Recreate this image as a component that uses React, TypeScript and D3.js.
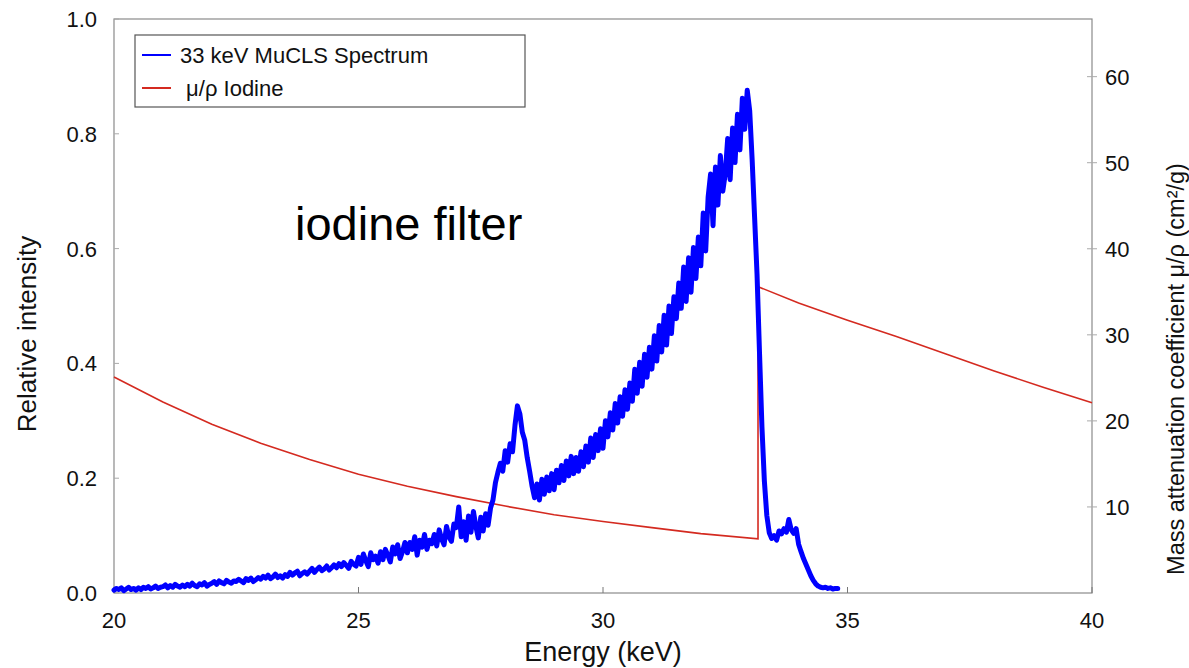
import React from "react";
import * as d3 from "d3";

const spectrumEnergy = [
  20.0, 20.05, 20.1, 20.15, 20.2, 20.25, 20.3, 20.35, 20.4, 20.45,
  20.5, 20.55, 20.6, 20.65, 20.7, 20.75, 20.8, 20.85, 20.9, 20.95,
  21.0, 21.05, 21.1, 21.15, 21.2, 21.25, 21.3, 21.35, 21.4, 21.45,
  21.5, 21.55, 21.6, 21.65, 21.7, 21.75, 21.8, 21.85, 21.9, 21.95,
  22.0, 22.05, 22.1, 22.15, 22.2, 22.25, 22.3, 22.35, 22.4, 22.45,
  22.5, 22.55, 22.6, 22.65, 22.7, 22.75, 22.8, 22.85, 22.9, 22.95,
  23.0, 23.05, 23.1, 23.15, 23.2, 23.25, 23.3, 23.35, 23.4, 23.45,
  23.5, 23.55, 23.6, 23.65, 23.7, 23.75, 23.8, 23.85, 23.9, 23.95,
  24.0, 24.05, 24.1, 24.15, 24.2, 24.25, 24.3, 24.35, 24.4, 24.45,
  24.5, 24.55, 24.6, 24.65, 24.7, 24.75, 24.8, 24.85, 24.9, 24.95,
  25.0, 25.05, 25.1, 25.15, 25.2, 25.25, 25.3, 25.35, 25.4, 25.45,
  25.5, 25.55, 25.6, 25.65, 25.7, 25.75, 25.8, 25.85, 25.9, 25.95,
  26.0, 26.05, 26.1, 26.15, 26.2, 26.25, 26.3, 26.35, 26.4, 26.45,
  26.5, 26.55, 26.6, 26.65, 26.7, 26.75, 26.8, 26.85, 26.9, 26.95,
  27.0, 27.05, 27.1, 27.15, 27.2, 27.25, 27.3, 27.35, 27.4, 27.45,
  27.5, 27.55, 27.6, 27.65, 27.7, 27.75, 27.8, 27.85, 27.9, 27.95,
  28.0, 28.05, 28.1, 28.15, 28.2, 28.25, 28.3, 28.35, 28.4, 28.45,
  28.5, 28.55, 28.6, 28.65, 28.7, 28.75, 28.8, 28.85, 28.9, 28.95,
  29.0, 29.05, 29.1, 29.15, 29.2, 29.25, 29.3, 29.35, 29.4, 29.45,
  29.5, 29.55, 29.6, 29.65, 29.7, 29.75, 29.8, 29.85, 29.9, 29.95,
  30.0, 30.05, 30.1, 30.15, 30.2, 30.25, 30.3, 30.35, 30.4, 30.45,
  30.5, 30.55, 30.6, 30.65, 30.7, 30.75, 30.8, 30.85, 30.9, 30.95,
  31.0, 31.05, 31.1, 31.15, 31.2, 31.25, 31.3, 31.35, 31.4, 31.45,
  31.5, 31.55, 31.6, 31.65, 31.7, 31.75, 31.8, 31.85, 31.9, 31.95,
  32.0, 32.05, 32.1, 32.15, 32.2, 32.25, 32.3, 32.35, 32.4, 32.45,
  32.5, 32.55, 32.6, 32.65, 32.7, 32.75, 32.8, 32.85, 32.9, 32.95,
  33.0, 33.05, 33.1, 33.15, 33.2, 33.25, 33.3, 33.35, 33.4, 33.45,
  33.5, 33.55, 33.6, 33.65, 33.7, 33.75, 33.8, 33.85, 33.9, 33.95,
  34.0, 34.05, 34.1, 34.15, 34.2, 34.25, 34.3, 34.35, 34.4, 34.45,
  34.5, 34.55, 34.6, 34.65, 34.7, 34.75, 34.8,
];

const spectrumIntensity = [
  0.005, 0.008, 0.006, 0.009, 0.004, 0.007, 0.010, 0.006, 0.008, 0.005,
  0.009, 0.006, 0.010, 0.008, 0.011, 0.007, 0.009, 0.012, 0.008, 0.010,
  0.011, 0.014, 0.009, 0.013, 0.010, 0.015, 0.012, 0.010, 0.014, 0.011,
  0.015, 0.012, 0.017, 0.013, 0.011, 0.016, 0.014, 0.018, 0.012, 0.015,
  0.017, 0.020, 0.015, 0.021, 0.018, 0.016, 0.022, 0.019, 0.017, 0.021,
  0.020, 0.024, 0.021, 0.018, 0.025, 0.022, 0.026, 0.020, 0.023, 0.027,
  0.024, 0.029, 0.026, 0.031, 0.025, 0.028, 0.033, 0.027, 0.030, 0.026,
  0.032, 0.029, 0.036, 0.031, 0.035, 0.038, 0.030, 0.034, 0.037, 0.033,
  0.038, 0.043, 0.036, 0.041, 0.045, 0.039, 0.042, 0.047, 0.040, 0.044,
  0.049, 0.044, 0.051, 0.046, 0.053, 0.048, 0.043, 0.055, 0.050, 0.047,
  0.062, 0.050, 0.068, 0.056, 0.046, 0.070, 0.058, 0.064, 0.052, 0.072,
  0.058, 0.076, 0.066, 0.054, 0.080, 0.068, 0.084, 0.060, 0.072, 0.088,
  0.070, 0.088, 0.076, 0.098, 0.066, 0.092, 0.080, 0.102, 0.076, 0.092,
  0.086, 0.102, 0.082, 0.110, 0.094, 0.084, 0.116, 0.098, 0.090, 0.120,
  0.114, 0.150, 0.098, 0.124, 0.092, 0.134, 0.106, 0.142, 0.116, 0.096,
  0.132, 0.108, 0.138, 0.118, 0.148, 0.162, 0.192, 0.210, 0.226, 0.212,
  0.248, 0.228, 0.260, 0.246, 0.292, 0.326, 0.312, 0.280, 0.266, 0.236,
  0.212, 0.186, 0.166, 0.190, 0.162, 0.198, 0.172, 0.202, 0.178, 0.208,
  0.180, 0.214, 0.192, 0.222, 0.196, 0.230, 0.204, 0.238, 0.208, 0.236,
  0.212, 0.246, 0.220, 0.256, 0.228, 0.270, 0.236, 0.276, 0.248, 0.286,
  0.252, 0.300, 0.272, 0.314, 0.284, 0.330, 0.296, 0.342, 0.308, 0.354,
  0.320, 0.366, 0.334, 0.390, 0.348, 0.402, 0.360, 0.416, 0.376, 0.428,
  0.390, 0.448, 0.404, 0.466, 0.420, 0.484, 0.432, 0.500, 0.452, 0.516,
  0.478, 0.540, 0.496, 0.568, 0.508, 0.584, 0.524, 0.602, 0.548, 0.620,
  0.570, 0.662, 0.596, 0.690, 0.730, 0.640, 0.742, 0.676, 0.762, 0.700,
  0.730, 0.792, 0.720, 0.810, 0.750, 0.834, 0.772, 0.862, 0.808, 0.876,
  0.840, 0.755, 0.655, 0.555, 0.420, 0.290, 0.195, 0.135, 0.105, 0.095,
  0.100, 0.092, 0.108, 0.103, 0.112, 0.106, 0.128, 0.110, 0.104, 0.112,
  0.085, 0.072, 0.060, 0.050, 0.040, 0.030, 0.022, 0.016, 0.012, 0.010,
  0.009, 0.010, 0.008, 0.009, 0.007, 0.008, 0.008,
];

const iodineEnergy = [20, 21, 22, 23, 24, 25, 26, 27, 28, 29, 30, 31, 32, 33.17, 33.17, 34, 35, 36, 37, 38, 39, 40];
const iodineMu = [25.1, 22.2, 19.6, 17.4, 15.5, 13.8, 12.4, 11.2, 10.1, 9.1, 8.3, 7.6, 6.9, 6.3, 35.6, 33.7, 31.7, 29.8, 27.8, 25.8, 23.9, 22.1];

const xTicks = [20, 25, 30, 35, 40];
const yLeftTicks = [0, 0.2, 0.4, 0.6, 0.8, 1.0];
const yRightTicks = [10, 20, 30, 40, 50, 60];

const legendLabels = ["33 keV MuCLS Spectrum", " μ/ρ Iodine"];
const legendColors = ["#0000ff", "#d42a20"];

const W = 1189;
const H = 668;
const L = 114;
const R = 1092;
const T = 19;
const B = 593;
const FONT = "Liberation Sans, Arial, Helvetica, sans-serif";

export default function App() {
  const x = d3.scaleLinear().domain([20, 40]).range([L, R]);
  const yL = d3.scaleLinear().domain([0, 1]).range([B, T]);
  const yR = d3.scaleLinear().domain([0, 66.7]).range([B, T]);

  const specPts: [number, number][] = spectrumEnergy.map((e, i) => [e, spectrumIntensity[i]]);
  const muPts: [number, number][] = iodineEnergy.map((e, i) => [e, iodineMu[i]]);

  const specLine = d3
    .line<[number, number]>()
    .x((d) => x(d[0]))
    .y((d) => yL(d[1]));
  const muLine = d3
    .line<[number, number]>()
    .x((d) => x(d[0]))
    .y((d) => yR(d[1]));

  return (
    <svg
      width={W}
      height={H}
      style={{ position: "absolute", left: 0, top: 0, background: "#fff" }}
      fontFamily={FONT}
    >
      <rect x={0} y={0} width={W} height={H} fill="#fff" />
      <rect x={L} y={T} width={R - L} height={B - T} fill="none" stroke="#8a8a8a" strokeWidth={1.2} />
      {xTicks.map((t) => (
        <g key={"xt" + t}>
          <line x1={x(t)} x2={x(t)} y1={B} y2={B - 6} stroke="#777" strokeWidth={1} />
          <text x={x(t)} y={B + 35} textAnchor="middle" fontSize={22} fill="#111">
            {t}
          </text>
        </g>
      ))}
      {yLeftTicks.map((t) => (
        <g key={"yl" + t}>
          <line x1={L} x2={L + 5} y1={yL(t)} y2={yL(t)} stroke="#aaa" strokeWidth={1} />
          <text x={L - 17} y={yL(t) + 8} textAnchor="end" fontSize={22} fill="#111">
            {t.toFixed(1)}
          </text>
        </g>
      ))}
      {yRightTicks.map((t) => (
        <g key={"yr" + t}>
          <line x1={R - 5} x2={R + 5} y1={yR(t)} y2={yR(t)} stroke="#aaa" strokeWidth={1} />
          <text x={R + 13} y={yR(t) + 8} textAnchor="start" fontSize={22} fill="#111">
            {t}
          </text>
        </g>
      ))}
      <path d={muLine(muPts) || ""} fill="none" stroke="#d42a20" strokeWidth={1.6} />
      <path
        d={specLine(specPts) || ""}
        fill="none"
        stroke="#0000ff"
        strokeWidth={5}
        strokeLinejoin="round"
        strokeLinecap="round"
      />
      <text x={295} y={240} fontSize={47} fill="#000">
        iodine filter
      </text>
      <text x={(L + R) / 2} y={661} textAnchor="middle" fontSize={27} fill="#111">
        Energy (keV)
      </text>
      <text
        transform={`translate(36, ${334}) rotate(-90)`}
        textAnchor="middle"
        fontSize={26}
        fill="#111"
      >
        Relative intensity
      </text>
      <text
        transform={`translate(1184, 369) rotate(-90)`}
        textAnchor="middle"
        fontSize={23.5}
        fill="#111"
      >
        Mass attenuation coefficient μ/ρ (cm²/g)
      </text>
      <rect x={135} y={35} width={390} height={72} fill="#fff" stroke="#555" strokeWidth={1.2} />
      {legendLabels.map((lab, i) => (
        <g key={"lg" + i}>
          <line
            x1={142}
            x2={171}
            y1={55 + i * 33}
            y2={55 + i * 33}
            stroke={legendColors[i]}
            strokeWidth={2}
          />
          <text x={180} y={63 + i * 33} fontSize={22} fill="#111" style={{ whiteSpace: "pre" }}>
            {lab}
          </text>
        </g>
      ))}
    </svg>
  );
}
